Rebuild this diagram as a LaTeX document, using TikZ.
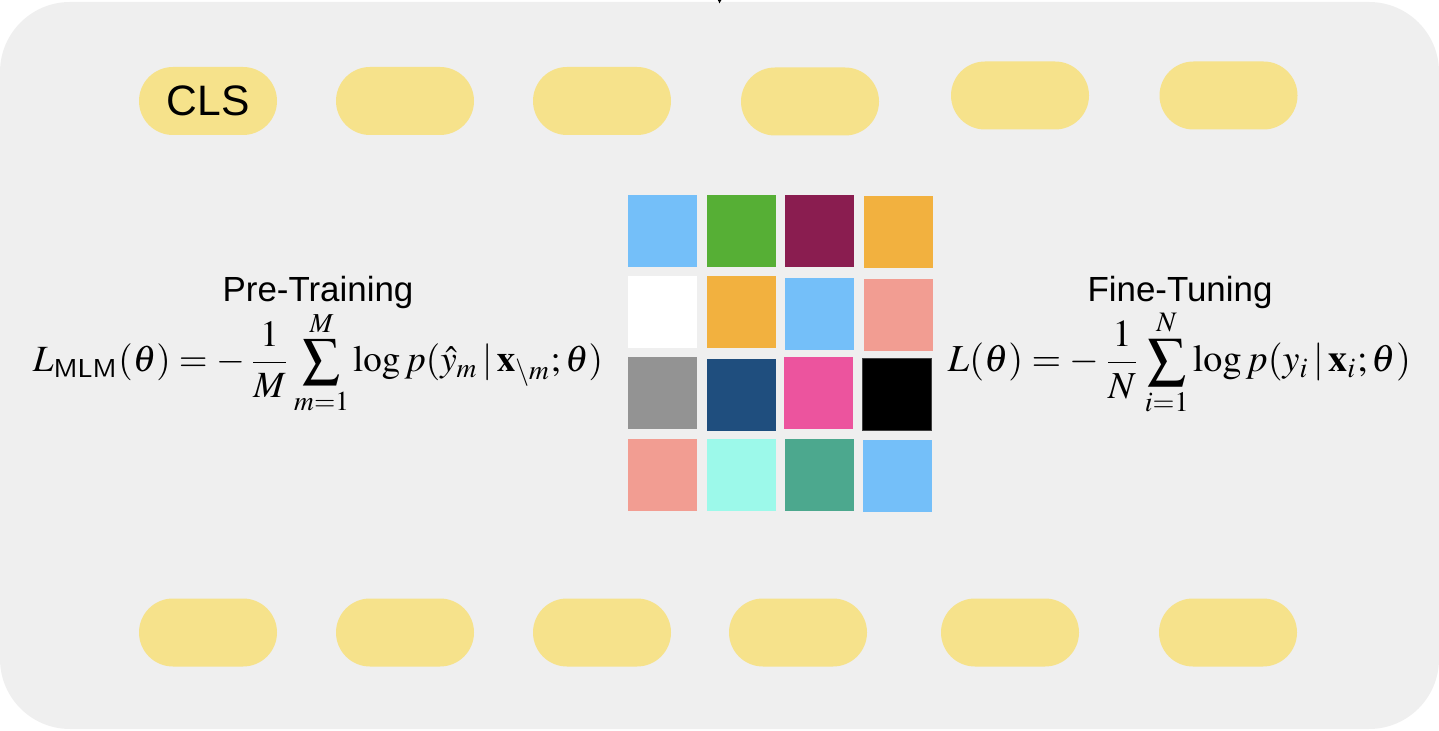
\documentclass[tikz,border=0pt]{standalone}
\usepackage{amsmath}
\usepackage{mathptmx}
\usepackage{fontspec}
\setmainfont{Liberation Serif}
\setsansfont{Liberation Sans}
\usetikzlibrary{shapes.misc,arrows.meta}
\definecolor{bgc}{HTML}{EFEFEF}
\definecolor{pillc}{HTML}{F6E28B}
\definecolor{lblue}{HTML}{74BFF9}
\definecolor{lgreen}{HTML}{56AF35}
\definecolor{maroon}{HTML}{8A1D50}
\definecolor{orange}{HTML}{F2B13F}
\definecolor{salmon}{HTML}{F29D92}
\definecolor{midgray}{HTML}{939393}
\definecolor{navy}{HTML}{1F4E7E}
\definecolor{pink}{HTML}{EC549E}
\definecolor{mint}{HTML}{9CF9EA}
\definecolor{teal}{HTML}{4CA88E}
\tikzset{
  panel/.style={shape=rectangle, rounded corners=35pt, fill=bgc, minimum width=719.5pt, minimum height=363.5pt, inner sep=0pt},
  pill/.style={shape=rounded rectangle, fill=pillc, minimum width=69pt, minimum height=34pt, inner sep=0pt},
  tile/.style={shape=rectangle, minimum width=34.5pt, minimum height=36pt, inner sep=0pt},
  title/.style={font=\fontsize{17.45}{20}\selectfont\sffamily, inner sep=0pt, anchor=base},
  formula/.style={inner sep=0pt, anchor=base},
  conn/.style={line width=0.5pt, -{Latex[length=2.5pt,width=3pt]}}
}
\begin{document}
\begin{tikzpicture}[x=0.5pt,y=-0.5pt]
\useasboundingbox (0,0) rectangle (1439,731);
\node[panel] (panel) at (719.5,365.5) {};
\coordinate (src) at (720,-20);
\draw[conn] (src) -- ([yshift=-1pt]panel.north);
% top pills
\node[pill, font=\fontsize{21.3}{24}\selectfont\sffamily] (t1) at (208,101) {CLS};
\node[pill] (t2) at (405,101) {};
\node[pill] (t3) at (602,101) {};
\node[pill] (t4) at (810,101.5) {};
\node[pill] (t5) at (1020,95.5) {};
\node[pill] (t6) at (1228.5,95.5) {};
% bottom pills
\node[pill] (b1) at (208,632.5) {};
\node[pill] (b2) at (405,632.5) {};
\node[pill] (b3) at (602,632.5) {};
\node[pill] (b4) at (798,632.5) {};
\node[pill] (b5) at (1010,632.5) {};
\node[pill] (b6) at (1228,632.5) {};
% tiles
\node[tile, fill=lblue] (s11) at (662.5,231) {};
\node[tile, fill=lgreen] (s12) at (741.5,231) {};
\node[tile, fill=maroon] (s13) at (819,231) {};
\node[tile, fill=orange] (s14) at (898.5,232.5) {};
\node[tile, fill=white] (s21) at (662.5,312) {};
\node[tile, fill=orange] (s22) at (741.5,312) {};
\node[tile, fill=lblue] (s23) at (819,314) {};
\node[tile, fill=salmon] (s24) at (898.5,315) {};
\node[tile, fill=midgray] (s31) at (662.5,393) {};
\node[tile, fill=navy] (s32) at (741.5,395.5) {};
\node[tile, fill=pink] (s33) at (818.5,393.5) {};
\node[tile, fill=black, draw=black!75, line width=0.4pt] (s34) at (896.5,394) {};
\node[tile, fill=salmon] (s41) at (662.5,475) {};
\node[tile, fill=mint] (s42) at (741.5,475) {};
\node[tile, fill=teal] (s43) at (819,475) {};
\node[tile, fill=lblue] (s44) at (897.5,476) {};
% titles
\node[title] (pt) at (318,302) {Pre-Training};
\node[title] (ft) at (1180,302) {Fine-Tuning};
% formulas
\node[formula] (f1) at (318,372) {\resizebox{285pt}{!}{$\displaystyle L_{\mathsf{MLM}}(\theta) = -\,\frac{1}{M}\sum_{m=1}^{M}\log p(\hat{y}_m\,|\,\mathbf{x}_{\setminus m};\theta)$}};
\node[formula] (f2) at (1179.5,372) {\resizebox{231.5pt}{!}{$\displaystyle L(\theta) = -\,\frac{1}{N}\sum_{i=1}^{N}\log p(y_i\,|\,\mathbf{x}_{i};\theta)$}};
\end{tikzpicture}
\end{document}
